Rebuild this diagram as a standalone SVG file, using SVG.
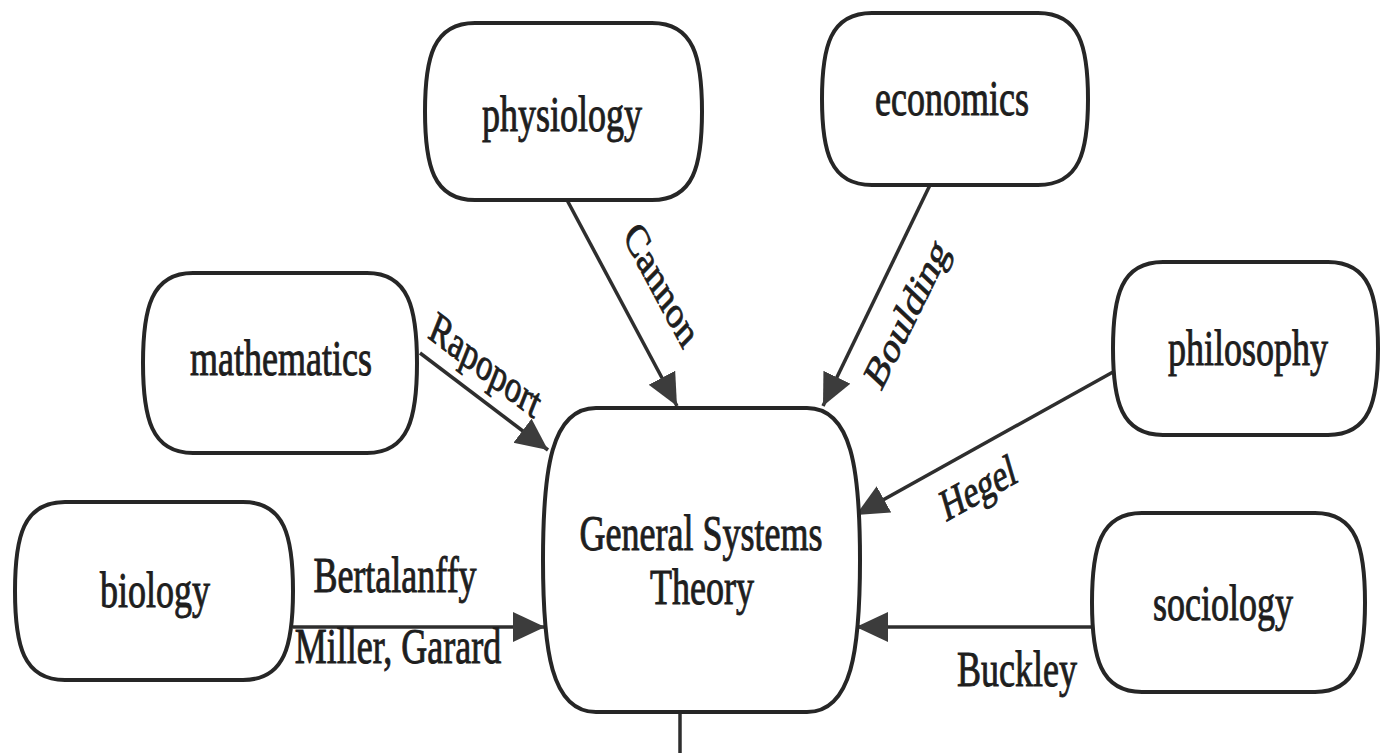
<svg xmlns="http://www.w3.org/2000/svg" width="1383" height="753" viewBox="0 0 1383 753">
  <style>
    .node { fill: #ffffff; stroke: #262626; stroke-width: 4; }
    .lbl { font-family: "Liberation Serif", "Times New Roman", serif; font-size: 36px; fill: #1e1e1e; stroke: #1e1e1e; stroke-width: 0.7; text-anchor: middle; }
    .edge-lbl { font-family: "Liberation Serif", "Times New Roman", serif; font-size: 33px; fill: #1e1e1e; stroke: #1e1e1e; stroke-width: 0.7; text-anchor: middle; }
    .edge { fill: none; stroke: #2e2e2e; stroke-width: 3.5; }
  </style>
  <defs>
    <marker id="arrow" markerUnits="userSpaceOnUse" markerWidth="34" markerHeight="32" refX="32" refY="15" orient="auto">
      <path d="M0,0 L32,15 L0,30 Z" fill="#3c3c3c"/>
    </marker>
  </defs>

  <rect width="1383" height="753" fill="#ffffff"/>

  <!-- connectors -->
  <g id="connectors">
    <line class="edge" x1="420" y1="353" x2="548" y2="450" marker-end="url(#arrow)"/>
    <line class="edge" x1="567" y1="200" x2="677" y2="406" marker-end="url(#arrow)"/>
    <line class="edge" x1="930" y1="185" x2="823" y2="406" marker-end="url(#arrow)"/>
    <line class="edge" x1="1113" y1="372" x2="856" y2="515" marker-end="url(#arrow)"/>
    <line class="edge" x1="1092" y1="627" x2="856" y2="627" marker-end="url(#arrow)"/>
    <line class="edge" x1="293" y1="627" x2="545" y2="627" marker-end="url(#arrow)"/>
    <line class="edge" x1="680" y1="712" x2="680" y2="753"/>

    <text class="edge-lbl" dy="0.35em" transform="translate(486,364) scale(1,1.38) rotate(29)">Rapoport</text>
    <text class="edge-lbl" dy="0.35em" transform="translate(662,284) scale(1,1.38) rotate(53.5)">Cannon</text>
    <text class="edge-lbl" dy="0.35em" transform="translate(906,313) scale(1,1.38) rotate(-55.8)">Boulding</text>
    <text class="edge-lbl" dy="0.35em" transform="translate(978,487) scale(1,1.38) rotate(-21.9)">Hegel</text>
    <text class="lbl" transform="translate(395,592) scale(1,1.38)">Bertalanffy</text>
    <text class="lbl" transform="translate(398,663) scale(1,1.38)">Miller, Garard</text>
    <text class="lbl" transform="translate(1017,686) scale(1,1.38)">Buckley</text>
  </g>

  <!-- discipline nodes -->
  <g id="physiology">
    <path class="node" d="M475,23 H652 C694,23 702,58 702,111.5 C702,165 694,200 652,200 H475 C433,200 425,165 425,111.5 C425,58 433,23 475,23 Z"/>
    <text class="lbl" transform="translate(562,131) scale(1,1.38)">physiology</text>
  </g>
  <g id="economics">
    <path class="node" d="M872,13 H1038 C1080,13 1088,47 1088,99 C1088,151 1080,185 1038,185 H872 C830,185 822,151 822,99 C822,47 830,13 872,13 Z"/>
    <text class="lbl" transform="translate(952,115) scale(1,1.38)">economics</text>
  </g>
  <g id="mathematics">
    <path class="node" d="M193,273 H367 C409,273 417,309 417,363 C417,417 409,453 367,453 H193 C151,453 143,417 143,363 C143,309 151,273 193,273 Z"/>
    <text class="lbl" transform="translate(281,375) scale(1,1.38)">mathematics</text>
  </g>
  <g id="biology">
    <path class="node" d="M65,502 H243 C285,502 293,537 293,591 C293,645 285,680 243,680 H65 C23,680 15,645 15,591 C15,537 23,502 65,502 Z"/>
    <text class="lbl" transform="translate(155,607) scale(1,1.38)">biology</text>
  </g>
  <g id="philosophy">
    <path class="node" d="M1163,262 H1328 C1370,262 1378,296 1378,348.5 C1378,401 1370,435 1328,435 H1163 C1121,435 1113,401 1113,348.5 C1113,296 1121,262 1163,262 Z"/>
    <text class="lbl" transform="translate(1248,365) scale(1,1.38)">philosophy</text>
  </g>
  <g id="sociology">
    <path class="node" d="M1142,513 H1315 C1357,513 1365,548 1365,602.5 C1365,657 1357,692 1315,692 H1142 C1100,692 1092,657 1092,602.5 C1092,548 1100,513 1142,513 Z"/>
    <text class="lbl" transform="translate(1223,620) scale(1,1.38)">sociology</text>
  </g>

  <!-- central node -->
  <g id="general-systems-theory">
    <path class="node" d="M596,408 H807 C852,408 860,470 860,560 C860,650 852,712 807,712 H596 C551,712 543,650 543,560 C543,470 551,408 596,408 Z"/>
    <text class="lbl" transform="translate(701,550) scale(1,1.38)">General Systems</text>
    <text class="lbl" transform="translate(702,604) scale(1,1.38)">Theory</text>
  </g>
</svg>
